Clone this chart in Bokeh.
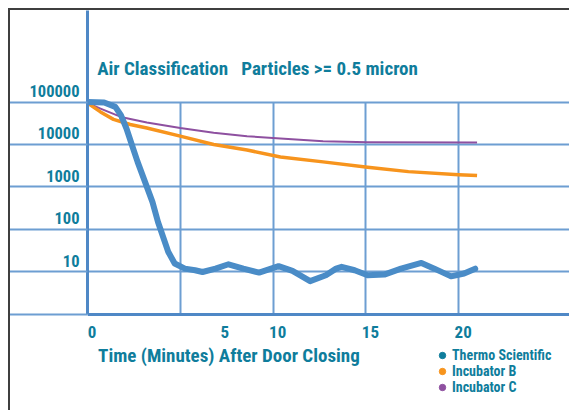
from bokeh.plotting import figure
from bokeh.models import Range1d, FixedTicker, Label, Legend, LegendItem
from bokeh.embed import file_html
from bokeh.resources import INLINE

# ---- data ----
t_thermo = [0, 0.9, 1.5, 1.8, 2.1, 2.4, 2.7, 3.1, 3.5, 3.8, 4.1, 4.35, 4.7, 5.25, 5.8,
            6.2, 6.9, 7.6, 8.4, 9.25, 10.3, 11.05, 12.0, 12.85, 13.4, 13.7, 14.4, 15.1, 16.0, 16.9,
            18.0, 18.7, 19.6, 20.3, 20.9]
v_thermo = [100000, 97000, 77000, 49000, 23800, 9600, 3900, 1320, 447, 150, 62, 30, 15.8, 12, 11,
            10, 12, 15.2, 12, 9.7, 13.7, 10.6, 6.1, 8.4, 12, 13.2, 11, 8.4, 8.7, 12,
            16.3, 12, 7.9, 9.2, 12]

t_incb = [0, 0.7, 1.4, 2.3, 3.2, 5.0, 6.8, 8.6, 10.4, 12.7, 15.1, 17.3, 20.0, 21.0]
v_incb = [95000, 58500, 39000, 29500, 24500, 15700, 10000, 7400, 5100, 3900, 2900, 2300, 1950, 1860]

t_incc = [0, 0.7, 1.8, 3.2, 5.0, 6.8, 8.6, 10.4, 12.7, 15.1, 21.0]
v_incc = [95000, 70000, 44500, 33000, 24500, 19000, 15700, 13800, 12000, 11350, 11200]

series_names = ["Thermo Scientific", "Incubator B", "Incubator C"]

y_ticks = [10, 100, 1000, 10000, 100000]
y_labels = ["10", "100", "1000", "10000", "100000"]
x_grid = [5, 10, 15, 20]
x_label_at = [0.25, 7.4, 10.25, 15.25, 20.25]
x_labels = ["0", "5", "10", "15", "20"]

title_text = "Air Classification\u00a0\u00a0 Particles >= 0.5 micron"
x_title = "Time (Minutes) After Door Closing"

# ---- styles ----
FONT = "'Roboto Condensed', 'Liberation Sans Narrow', 'Arial Narrow', Roboto, sans-serif"
TEAL = "#0f7d9c"
GRID = "#6d9ed2"
AXIS = "#4f88c6"
BLUE = "#4a8cc7"
ORANGE = "#f7941d"
PURPLE = "#8e50a0"

Y_TOP = 10 ** 7.153
Y_BOTTOM = 10 ** -2.306
NAN = float("nan")

p = figure(width=561, height=402,
           x_range=Range1d(0, 26.09), y_range=Range1d(Y_BOTTOM, Y_TOP),
           y_axis_type="log", output_backend="svg", toolbar_location=None,
           min_border_left=77, min_border_right=0, min_border_top=0, min_border_bottom=0,
           background_fill_color="white", border_fill_color="white",
           outline_line_color=None,
           styles={"margin-left": "8px", "margin-top": "8px",
                   "border-top": "2px solid #3f3f3f", "border-left": "2px solid #3f3f3f"})

# y axis: labels sit just above each grid line; minor ticks extend grid lines to the left
ya = p.yaxis[0]
shift = 10 ** 0.27
label_pos = [v * shift for v in y_ticks]
ya.ticker = FixedTicker(ticks=label_pos, minor_ticks=[1] + y_ticks)
ya.major_label_overrides = {pos: lab for pos, lab in zip(label_pos, y_labels)}
ya.bounds = (1, Y_TOP)
ya.major_tick_out = 0
ya.major_tick_in = 0
ya.minor_tick_out = 78
ya.minor_tick_in = 0
ya.minor_tick_line_color = GRID
ya.minor_tick_line_width = 2
ya.axis_line_color = AXIS
ya.axis_line_width = 3
ya.major_label_standoff = -70
ya.major_label_text_font = FONT
ya.major_label_text_font_size = "16.5px"
ya.major_label_text_font_style = "bold"
ya.major_label_text_color = TEAL

# x axis drawn at y = 1 inside the plot area
xa = p.xaxis[0]
xa.fixed_location = 1
xa.ticker = FixedTicker(ticks=x_label_at)
xa.major_label_overrides = {pos: lab for pos, lab in zip(x_label_at, x_labels)}
xa.major_tick_out = 0
xa.major_tick_in = 0
xa.minor_tick_out = 0
xa.minor_tick_in = 0
xa.axis_line_color = AXIS
xa.axis_line_width = 3
xa.major_label_standoff = 12
xa.major_label_text_font = FONT
xa.major_label_text_font_size = "17px"
xa.major_label_text_font_style = "bold"
xa.major_label_text_color = TEAL

p.ygrid.ticker = FixedTicker(ticks=y_ticks)
p.ygrid.grid_line_color = GRID
p.ygrid.grid_line_width = 2
p.xgrid.ticker = FixedTicker(ticks=x_grid)
p.xgrid.grid_line_color = GRID
p.xgrid.grid_line_width = 2
p.xgrid.cross_bounds = (1, 100000)

# data lines
p.line(t_incc, v_incc, line_width=2, color=PURPLE, line_join="round")
p.line(t_incb, v_incb, line_width=3.5, color=ORANGE, line_join="round")
p.line(t_thermo, v_thermo, line_width=6, color=BLUE, line_join="round", line_cap="round")

# legend markers (a single NaN point: nothing drawn in the plot, marker drawn in the legend)
m1 = p.scatter(x=[NAN], y=[NAN], size=7, color=TEAL)
m2 = p.scatter(x=[NAN], y=[NAN], size=7, color=ORANGE)
m3 = p.scatter(x=[NAN], y=[NAN], size=7, color=PURPLE)
legend = Legend(items=[LegendItem(label=series_names[0], renderers=[m1]),
                       LegendItem(label=series_names[1], renderers=[m2]),
                       LegendItem(label=series_names[2], renderers=[m3])],
                location=(346, 17), glyph_width=18, glyph_height=16, label_height=16,
                label_standoff=1, spacing=0, padding=0, margin=0,
                border_line_color=None, background_fill_alpha=0,
                label_text_font=FONT, label_text_font_size="14px",
                label_text_font_style="bold", label_text_color=TEAL)
p.add_layout(legend)

p.add_layout(Label(x=9.7, y=344, x_units="screen", y_units="screen", text=title_text,
                   text_font=FONT, text_font_size="19px", text_font_style="bold",
                   text_color=TEAL, text_baseline="middle"))

p.add_layout(Label(x=10.6, y=57, x_units="screen", y_units="screen", text=x_title,
                   text_font=FONT, text_font_size="19px", text_font_style="bold",
                   text_color=TEAL, text_baseline="middle"))

open("out.html", "w").write(file_html(p, INLINE))
